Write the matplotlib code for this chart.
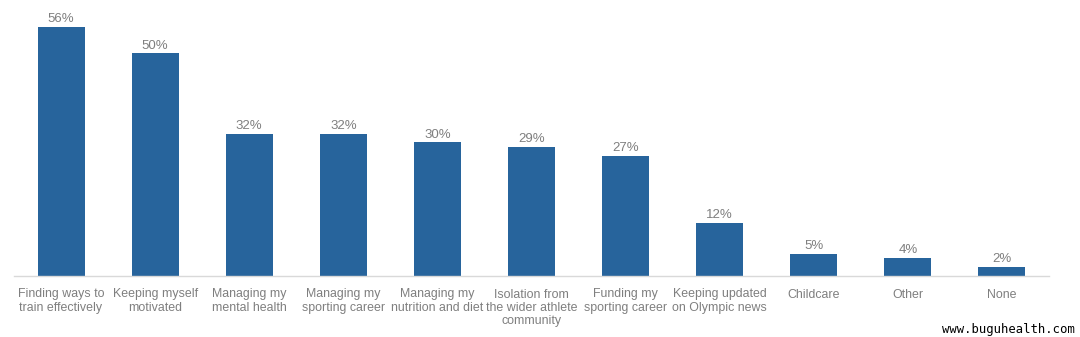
import matplotlib
matplotlib.use("Agg")
import matplotlib.pyplot as plt

categories = ["Finding ways to\ntrain effectively", "Keeping myself\nmotivated", "Managing my\nmental health",
              "Managing my\nsporting career", "Managing my\nnutrition and diet", "Isolation from\nthe wider athlete\ncommunity",
              "Funding my\nsporting career", "Keeping updated\non Olympic news", "Childcare", "Other", "None"]
values = [56, 50, 32, 32, 30, 29, 27, 12, 5, 4, 2]

plt.rcParams['font.family'] = ['Liberation Sans', 'DejaVu Sans']
fig = plt.figure(figsize=(10.8, 3.37), dpi=100)
ax = fig.add_axes([14/1080, 1 - 276/337, (1049 - 14)/1080, 276/337])
x = range(len(values))
bars = ax.bar(x, values, width=0.5, color="#27649c")
for xi, v in zip(x, values):
    ax.text(xi, v + 0.4, f"{v}%", ha="center", va="bottom", fontsize=9.5, color="#7f7f7f")
ax.set_xlim(-0.5, len(values) - 0.5)
ax.set_ylim(0, 62)
ax.set_yticks([])
ax.set_xticks(list(x))
ax.set_xticklabels(categories, fontsize=8.9, color="#7f7f7f", linespacing=1.15)
ax.tick_params(axis="x", length=0, pad=9)
for s in ["top", "right", "left"]:
    ax.spines[s].set_visible(False)
ax.spines["bottom"].set_color("#d9d9d9")
ax.spines["bottom"].set_linewidth(1)
fig.text(1075/1080, 1 - 329/337, "www.buguhealth.com", ha="right", va="center", fontsize=8.8,
         family=["DejaVu Sans Mono"], color="black")
fig.savefig("out.png", dpi=100)
